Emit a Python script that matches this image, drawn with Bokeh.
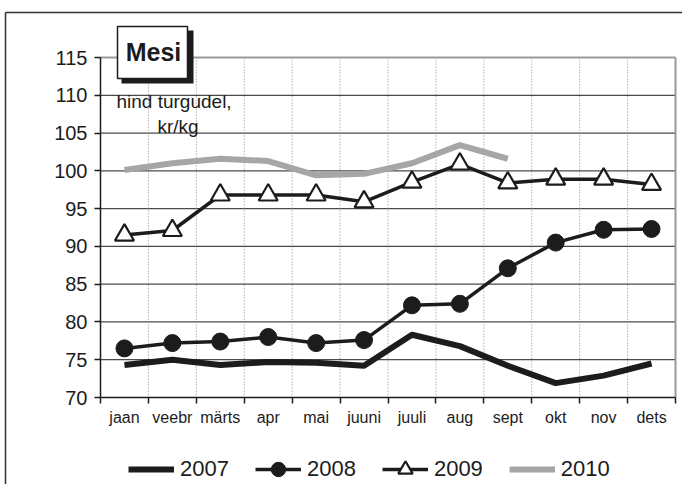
import numpy as np
from bokeh.plotting import figure
from bokeh.models import (Range1d, FixedTicker, Legend, LegendItem, Label,
                          LinearAxis)
from bokeh.embed import file_html
from bokeh.resources import INLINE

# Monthly honey prices, kr/kg
months = ["jaan", "veebr", "märts", "apr", "mai", "juuni",
          "juuli", "aug", "sept", "okt", "nov", "dets"]
price_2007 = [74.3, 75.0, 74.3, 74.7, 74.6, 74.2, 78.3, 76.8, 74.2, 71.9, 72.9, 74.5]
price_2008 = [76.5, 77.2, 77.4, 78.0, 77.2, 77.6, 82.2, 82.4, 87.1, 90.5, 92.2, 92.3]
price_2009 = [91.5, 92.1, 96.8, 96.8, 96.8, 95.9, 98.5, 100.9, 98.4, 98.9, 98.9, 98.2]
price_2010 = [100.1, 101.0, 101.6, 101.3, 99.4, 99.6, 101.0, 103.4, 101.6]
y_ticks = [70, 75, 80, 85, 90, 95, 100, 105, 110, 115]

FONT = "Liberation Sans"
BLACK = "#1c1c1c"
GREY = "#a6a6a6"

W, H = 682, 484
# pixel box of the plotting area inside the canvas
PL, PR, PT, PB = 100, 675, 57, 397
n = len(months)
Y0, Y1 = y_ticks[0], y_ticks[-1]
px_x = (PR - PL) / n
px_y = (PB - PT) / (Y1 - Y0)


def to_x(px):
    return -0.5 + (px - PL) / px_x


def to_y(py):
    return Y1 - (py - PT) / px_y


# the frame covers the whole canvas; axes sit at fixed locations inside it
p = figure(width=W, height=H, output_backend="svg", toolbar_location=None,
           x_range=Range1d(to_x(0), to_x(W)), y_range=Range1d(to_y(H), to_y(0)),
           x_axis_location=None, y_axis_location=None, min_border=0,
           background_fill_color="white", border_fill_color="white",
           outline_line_color=None)
p.grid.visible = False

X0, X1 = -0.5, n - 0.5

# horizontal grid lines
inner_ticks = y_ticks[1:-1]
p.segment(x0=[X0] * len(inner_ticks), x1=[X1] * len(inner_ticks),
          y0=inner_ticks, y1=inner_ticks, line_color="#4a4a4a", line_width=1.3)
# dotted month separators
seps = [i + 0.5 for i in range(n - 1)]
p.segment(x0=seps, x1=seps, y0=[Y0] * len(seps), y1=[Y1] * len(seps),
          line_color="#8c8c8c", line_dash="1 2", line_width=1)
# light border of the plotting area (top and right)
p.segment(x0=[X0, X1], x1=[X1, X1], y0=[Y1, Y0], y1=[Y1, Y1],
          line_color="#9a9a9a", line_width=2)
# outer frame of the chart
p.segment(x0=[to_x(5), to_x(5)], x1=[to_x(5), to_x(W + 10)],
          y0=[to_y(12), to_y(12)], y1=[to_y(H + 10), to_y(12)],
          line_color="#333333", line_width=1.5)

# y axis
yax = LinearAxis(fixed_location=X0, bounds=(Y0, Y1),
                 ticker=FixedTicker(ticks=y_ticks))
yax.major_label_text_font = FONT
yax.major_label_text_font_size = "20px"
yax.major_label_text_color = BLACK
yax.axis_line_color = BLACK
yax.axis_line_width = 1.5
yax.major_tick_out = 6
yax.major_tick_in = 0
yax.major_tick_line_color = BLACK
yax.major_tick_line_width = 1.5
yax.minor_tick_line_color = None
yax.major_label_standoff = 7
p.add_layout(yax, "left")

# x axis: month names centred, tick marks between months
xax = LinearAxis(fixed_location=Y0, bounds=(X0, X1),
                 ticker=FixedTicker(ticks=list(range(n)),
                                    minor_ticks=[i - 0.5 for i in range(n + 1)]))
xax.major_label_overrides = {i: m for i, m in enumerate(months)}
xax.major_label_text_font = FONT
xax.major_label_text_font_size = "16px"
xax.major_label_text_color = BLACK
xax.axis_line_color = BLACK
xax.axis_line_width = 1.5
xax.major_tick_out = 0
xax.major_tick_in = 0
xax.minor_tick_out = 6
xax.minor_tick_in = 0
xax.minor_tick_line_color = BLACK
xax.minor_tick_line_width = 1.5
xax.major_label_standoff = 5
p.add_layout(xax, "below")

x_all = np.arange(n)

r07 = p.line(x_all, price_2007, line_color=BLACK, line_width=6, line_join="round")
r08l = p.line(x_all, price_2008, line_color=BLACK, line_width=3.5)
r08m = p.scatter(x_all, price_2008, marker="circle", size=17,
                 fill_color=BLACK, line_color=BLACK)
r09l = p.line(x_all, price_2009, line_color=BLACK, line_width=3.5)
r09m = p.scatter(x_all, price_2009, marker="triangle", size=19,
                 fill_color="white", line_color=BLACK, line_width=2.2)
r10 = p.line(x_all[:len(price_2010)], price_2010, line_color=GREY, line_width=6)

# title box with drop shadow
p.quad(left=[to_x(121)], right=[to_x(193)], top=[to_y(30)], bottom=[to_y(83)],
       fill_color=BLACK, line_color=None)
p.quad(left=[to_x(117)], right=[to_x(187)], top=[to_y(26)], bottom=[to_y(78)],
       fill_color="white", line_color=BLACK, line_width=1.5)
p.add_layout(Label(x=to_x(153), y=to_y(51), text="Mesi", text_font=FONT,
                   text_font_size="25px", text_font_style="bold",
                   text_align="center", text_baseline="middle",
                   text_color=BLACK))

p.add_layout(Label(x=to_x(116), y=to_y(101), text="hind turgudel,", text_font=FONT,
                   text_font_size="19px", text_color=BLACK,
                   text_align="left", text_baseline="middle"))
p.add_layout(Label(x=to_x(157), y=to_y(126), text="kr/kg", text_font=FONT,
                   text_font_size="19px", text_color=BLACK,
                   text_align="left", text_baseline="middle"))

legend = Legend(items=[LegendItem(label="2007", renderers=[r07]),
                       LegendItem(label="2008", renderers=[r08l, r08m]),
                       LegendItem(label="2009", renderers=[r09l, r09m]),
                       LegendItem(label="2010", renderers=[r10])],
                orientation="horizontal", location=(128, -3),
                glyph_width=46, glyph_height=36, label_standoff=6, spacing=26,
                padding=0, margin=0, border_line_color=None,
                background_fill_alpha=0, label_text_font=FONT,
                label_text_font_size="22px", label_text_color=BLACK,
                label_height=20)
p.add_layout(legend, "center")

open("out.html", "w").write(file_html(p, INLINE))
